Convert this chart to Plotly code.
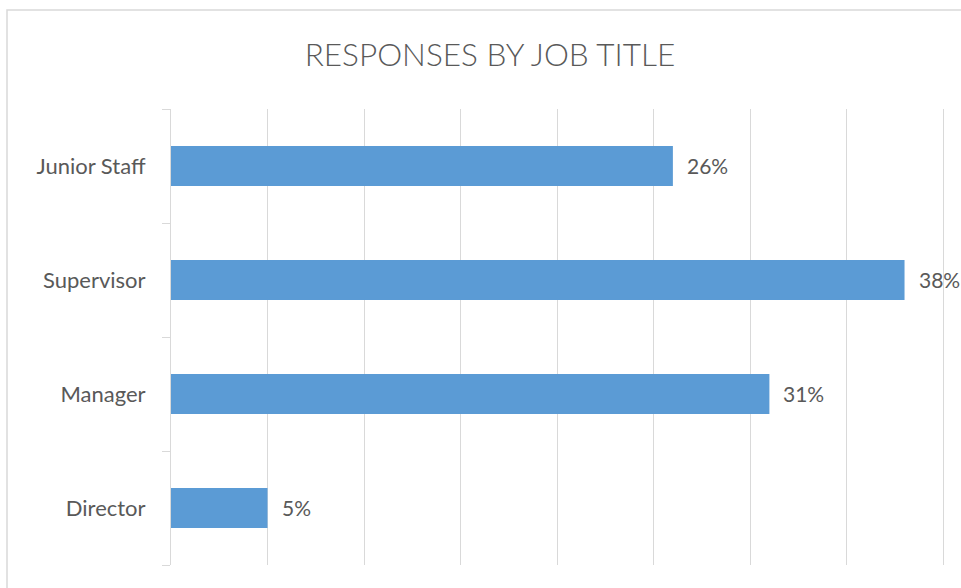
import plotly.graph_objects as go

categories = ["Junior Staff", "Supervisor", "Manager", "Director"]
values = [26, 38, 31, 5]
value_labels = ["26%", "38%", "31%", "5%"]

TEXT = "#595959"
GRID = "#D9D9D9"
BAR = "#5B9BD5"

fig = go.Figure(go.Bar(
    x=values, y=categories, orientation="h",
    marker=dict(color=BAR, line=dict(width=0)),
    hoverinfo="skip",
))

for v, c, t in zip(values, categories, value_labels):
    fig.add_annotation(x=v, y=c, text=t, showarrow=False, xanchor="left",
                       xshift=12, yshift=1,
                       font=dict(family="Lato", size=21, color=TEXT))

L, R, T, B = 171, 14, 109, 23
W, H = 961, 588
pw, ph = W - L - R, H - T - B

fig.add_shape(type="rect", xref="paper", yref="paper",
              x0=(7 - L) / pw, x1=(W + 20 - L) / pw,
              y0=-(B + 20) / ph, y1=(H - B - 10) / ph,
              line=dict(color=GRID, width=1.5), layer="below")

fig.update_layout(
    width=W, height=H,
    margin=dict(l=L, r=R, t=T, b=B),
    paper_bgcolor="white", plot_bgcolor="white",
    bargap=0.65,
    showlegend=False,
    title=dict(text="RESPONSES BY JOB TITLE", x=490 / W, xanchor="center",
               y=1 - 55 / H, yanchor="middle", yref="container",
               font=dict(family="Lato", size=31.5, color=TEXT, weight=300)),
    xaxis=dict(range=[0, 40.2], dtick=5, tick0=0, showticklabels=False,
               showgrid=True, gridcolor=GRID, gridwidth=1, zeroline=False,
               showline=False, fixedrange=True),
    yaxis=dict(categoryorder="array", categoryarray=categories[::-1],
               showline=True, linecolor=GRID, linewidth=1,
               ticks="outside", tickson="boundaries", ticklen=8, tickcolor=GRID,
               ticklabelstandoff=20,
               tickfont=dict(family="Lato", size=22, color=TEXT),
               showgrid=False, fixedrange=True),
)

fig.write_html("out.html")
